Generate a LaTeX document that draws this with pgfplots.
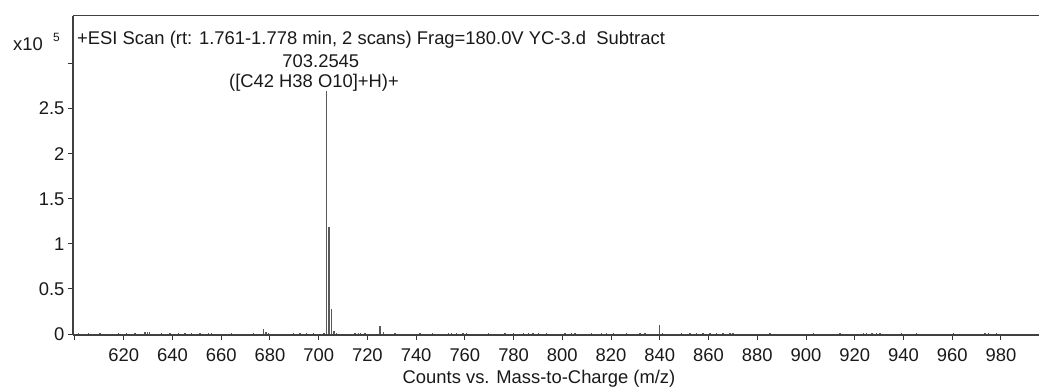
\documentclass[border=0pt]{standalone}
\usepackage{pgfplots}
\pgfplotsset{compat=1.18}
\usepackage{pgfplotstable}
\usepackage{fontspec}
\setmainfont{Liberation Sans}

\pgfplotstableread{
mz     y
601.4  0.012
605.5  0.010
610.3  0.010
617.8  0.010
621.2  0.012
624.6  0.010
628.7  0.020
629.7  0.022
630.5  0.018
635.6  0.010
639.0  0.012
642.4  0.010
645.1  0.012
647.9  0.010
651.3  0.012
654.7  0.015
656.1  0.012
664.3  0.010
673.2  0.010
677.3  0.055
678.4  0.025
679.3  0.012
689.6  0.010
692.3  0.012
695.1  0.010
697.8  0.012
702.2  0.012
703.25 2.69
704.26 1.19
705.26 0.28
706.26 0.03
707.3  0.012
714.9  0.012
716.3  0.015
717.2  0.012
719.0  0.012
725.2  0.085
726.5  0.018
731.3  0.012
741.6  0.010
746.8  0.010
753.2  0.012
754.6  0.012
756.6  0.015
759.3  0.012
760.7  0.010
769.6  0.010
776.4  0.010
779.9  0.010
784.0  0.012
786.0  0.010
788.0  0.012
790.1  0.010
793.5  0.012
801.1  0.010
803.8  0.012
805.2  0.010
812.0  0.010
816.1  0.010
818.1  0.012
820.9  0.010
826.4  0.010
831.8  0.010
833.9  0.012
839.8  0.100
841.1  0.012
849.0  0.010
852.4  0.012
855.1  0.010
857.8  0.012
860.6  0.010
863.3  0.012
866.0  0.010
868.8  0.012
870.1  0.010
885.2  0.010
903.0  0.010
913.9  0.010
923.5  0.015
924.9  0.015
927.0  0.015
929.0  0.012
930.3  0.012
939.2  0.010
945.4  0.010
960.4  0.010
973.4  0.012
974.8  0.012
978.2  0.010
}\spectrum

\begin{document}
\begin{tikzpicture}
\begin{axis}[
  scale only axis, width=966pt, height=319.3pt,
  xmin=599.2, xmax=995.6, ymin=-0.01, ymax=3.53,
  axis x line=bottom, axis y line=left,
  x axis line style={-, line width=1.4pt, black!75},
  y axis line style={-, line width=1.2pt, black!75},
  tick align=outside, major tick length=5pt,
  tick style={line width=1pt, black!80},
  xtick={600,620,640,660,680,700,720,740,760,780,800,820,840,860,880,900,920,940,960,980},
  xticklabels={,620,640,660,680,700,720,740,760,780,800,820,840,860,880,900,920,940,960,980},
  ytick={0,0.5,1,1.5,2,2.5,3},
  yticklabels={0,0.5,1,1.5,2,2.5,},
  /pgf/number format/assume math mode=true,
  tick label style={font=\fontsize{18.4}{20}\selectfont, text=black!90},
  xticklabel style={yshift=-5pt},
  xlabel={Counts vs. Mass-to-Charge (m/z)},
  xlabel style={at={(axis description cs:0.4824,0)}, anchor=center, yshift=-44pt, font=\fontsize{18.4}{20}\selectfont, text=black!90},
  clip=false,
]
\addplot[ycomb, no marks, line width=1.4pt, black!65] table[x=mz, y=y] {\spectrum};
\draw[black!75, line width=1.2pt] (rel axis cs:0,1) -- (rel axis cs:1,1);
\node[anchor=base west, inner sep=0pt, font=\fontsize{18.4}{20}\selectfont, text=black!90]
  at (rel axis cs:0,1) [xshift=4pt, yshift=-28.8pt]
  {+ESI Scan (rt: 1.761-1.778 min, 2 scans) Frag=180.0V YC-3.d\ \ Subtract};
\node[anchor=base west, inner sep=0pt, font=\fontsize{18.4}{20}\selectfont, text=black!90]
  at (rel axis cs:0,1) [xshift=-60pt, yshift=-35.3pt] {x10};
\node[anchor=base west, inner sep=0pt, font=\fontsize{12}{14}\selectfont, text=black!90]
  at (rel axis cs:0,1) [xshift=-20pt, yshift=-26.3pt] {5};
\node[anchor=base, inner sep=0pt, font=\fontsize{18.4}{20}\selectfont, text=black!90]
  at (axis cs:700.9,2.69) [yshift=24pt] {703.2545};
\node[anchor=base, inner sep=0pt, font=\fontsize{18.4}{20}\selectfont, text=black!90]
  at (axis cs:698.1,2.69) [yshift=4pt] {([C42 H38 O10]+H)+};
\end{axis}
\pgfresetboundingbox
\path (0,0) ++(-73pt,-55pt) rectangle ++(1039pt,390pt);
\end{tikzpicture}
\end{document}
